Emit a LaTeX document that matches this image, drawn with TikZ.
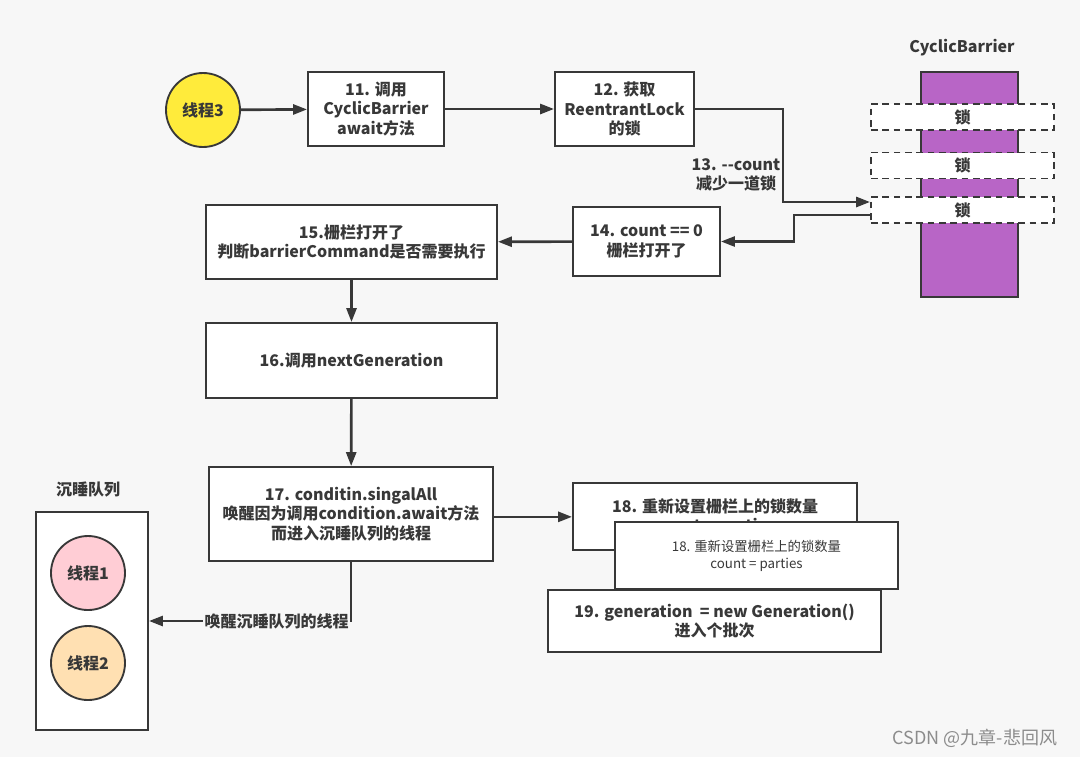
\documentclass[tikz,border=0pt]{standalone}
\usepackage{fontspec}
\setmainfont{Noto Sans CJK SC}
\usetikzlibrary{arrows.meta,calc}

\begin{document}
\begin{tikzpicture}[x=0.75pt,y=-0.75pt, line width=1.4pt,
        sz/.style 2 args={minimum width=#1*0.75pt, minimum height=#2*0.75pt},
        box/.style={draw=lineC, fill=white, line width=1.4pt, align=center, inner sep=0pt,
            text=lineC, font=\bfseries\fontsize{12}{14.5}\selectfont},
        lockbox/.style={box, dashed, dash pattern=on 5pt off 3.5pt, sz={183}{26}},
        thread/.style={box, circle, sz={74}{74}},
        arr/.style={draw=lineC, line width=2pt, -{Triangle[length=10.5pt,width=7.5pt]}},
        title/.style={text=lineC, font=\bfseries\fontsize{12}{14.5}\selectfont}]
    \colorlet{lineC}{black!78}
    \definecolor{bgC}{HTML}{F7F7F7}
    \definecolor{barC}{HTML}{B865C6}
    \definecolor{yelC}{HTML}{FFEB3B}
    \definecolor{pinkC}{HTML}{FFCDD5}
    \definecolor{orgC}{HTML}{FFE0B2}

    \fill[bgC] (0,0) rectangle (1080,757);
    \useasboundingbox (0,0) rectangle (1080,757);

    % Top row
    \node[thread, fill=yelC] (t3) at (203,110) {线程3};
    \node[box, sz={136}{74}] (b11) at (376,109) {11. 调用\\CyclicBarrier\\await方法};
    \node[box, sz={139}{74}] (b12) at (624.5,109) {12. 获取\\ReentrantLock\\的锁};
    \draw[arr] (t3) -- (b11);
    \draw[arr] (b11) -- (b12);

    % CyclicBarrier
    \node[title] (cbTitle) at (962,48) {CyclicBarrier};
    \filldraw[fill=barC, draw=lineC, line width=1.4pt] (921,72) rectangle (1018,297);
    \foreach \i/\y in {1/117, 2/165.5, 3/210} {
        \node[lockbox] (lock\i) at (962.5,\y) {锁};
    }
    \draw[arr] (b12.east) -- ++(88,0) |- ($(lock3.west)+(0,-8)$);
    \node[title, align=center] (cnt) at (736,175) {13. -\kern0pt-count\\减少一道锁};

    % Barrier opens
    \node[box, sz={147}{69}] (b14) at (646.5,241.5) {14. count == 0\\栅栏打开了};
    \draw[arr] ($(lock3.west)+(0,5)$) -- ++(-76,0) |- (b14.east);
    \node[box, sz={291}{74}] (b15) at (351.5,242) {15.栅栏打开了\\判断barrierCommand是否需要执行};
    \draw[arr] (b14) -- (b15);
    \node[box, sz={291}{75}] (b16) at (351.5,360.5) {16.调用nextGeneration};
    \draw[arr] (b15) -- (b16);
    \node[box, sz={284}{94}] (b17) at (351,514) {17. conditin.singalAll\\唤醒因为调用condition.await方法\\而进入沉睡队列的线程};
    \draw[arr] (b16) -- (b17);

    % Reset boxes
    \node[box, sz={284}{67}, yshift=-2.5pt] (b18) at (715,513.5) {18. 重新设置栅栏上的锁数量\\count = parties};
    \node[box, sz={283}{67}, font=\fontsize{10}{12.8}\selectfont] (b18b) at (756.5,555.5) {18. 重新设置栅栏上的锁数量\\count = parties};
    \node[box, sz={333}{62}] (b19) at (714.5,621) {19. generation\ \ = new Generation()\\进入个批次};
    \draw[arr] (b17.east |- b18) -- (b18.west);

    % Sleep queue
    \node[title] (sqTitle) at (88,490) {沉睡队列};
    \node[box, sz={112}{218}] (sleep) at (92,621) {};
    \node[thread, fill=pinkC] (t1) at (88,573) {线程1};
    \node[thread, fill=orgC] (t2) at (88,663) {线程2};
    \draw[arr] (b17.south) |- (sleep.east);
    \node[title, fill=bgC, inner sep=1pt, anchor=east] (wake) at (b17.south |- sleep.east) {唤醒沉睡队列的线程};

    \node[text=black!45, font=\fontsize{13.5}{15}\selectfont] (mark) at (975,738) {CSDN @九章-悲回风};
\end{tikzpicture}
\end{document}
